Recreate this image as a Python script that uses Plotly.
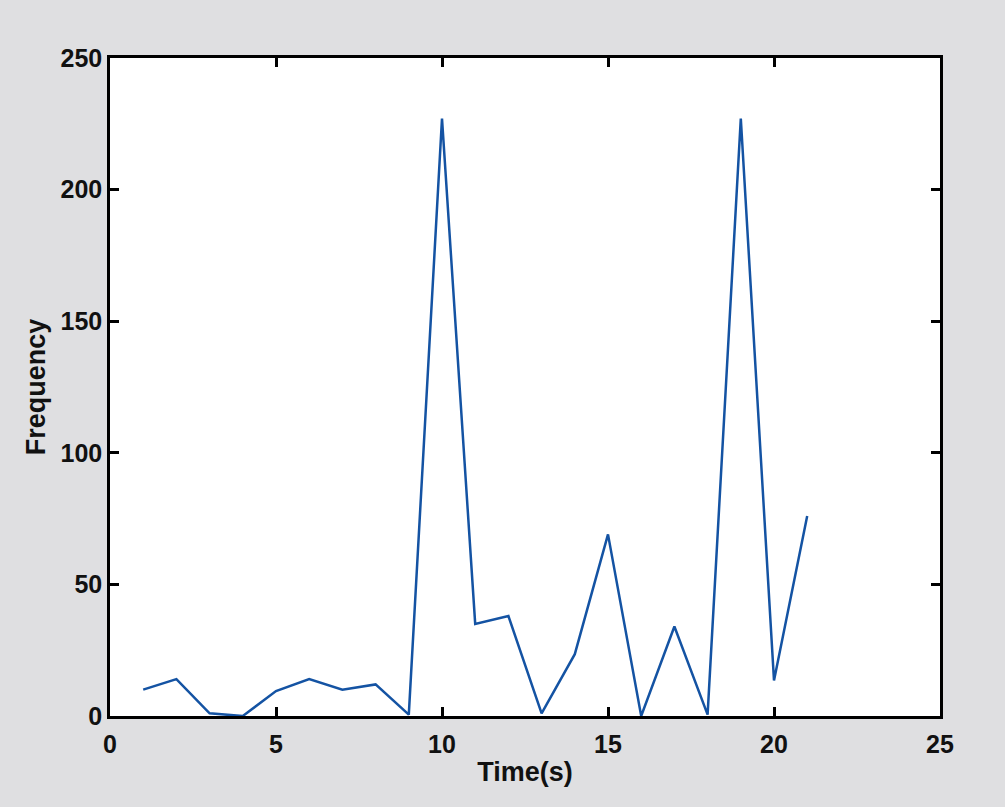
import plotly.graph_objects as go

time_s = list(range(1, 22))
frequency = [10, 14, 1, 0, 9.5, 14, 10, 12, 0.5, 227, 35, 38, 1, 23.5, 69, 0, 34, 0.5, 227, 13.5, 76]
x_ticks = [0, 5, 10, 15, 20, 25]
y_ticks = [0, 50, 100, 150, 200, 250]

fig = go.Figure()
fig.add_trace(go.Scatter(x=time_s, y=frequency, mode="lines",
                         line=dict(color="#1453a3", width=2.5), showlegend=False))

tick_font = dict(family="Liberation Sans, Arial, sans-serif", size=25, color="#111111", weight="bold")
title_font = dict(family="Liberation Sans, Arial, sans-serif", size=27, color="#111111", weight="bold")
axis_common = dict(showgrid=False, zeroline=False, showline=True, linecolor="black", linewidth=2.5,
                   mirror="ticks", ticks="inside", ticklen=9, tickwidth=2.5, tickcolor="black",
                   tickfont=tick_font)

fig.update_layout(
    width=1005, height=807,
    paper_bgcolor="#dfdfe1", plot_bgcolor="white",
    margin=dict(l=110, r=65, t=58, b=91),
    xaxis=dict(range=[0, 25], tickvals=x_ticks, ticklabelstandoff=4,
               title=dict(text="Time(s)", font=title_font, standoff=6), **axis_common),
    yaxis=dict(range=[0, 250], tickvals=y_ticks,
               title=dict(text="Frequency", font=title_font, standoff=8), **axis_common),
)
fig.write_html("out.html", config={"displayModeBar": False},
               post_script="document.body.style.margin='0';document.body.style.background='#dfdfe1';")
